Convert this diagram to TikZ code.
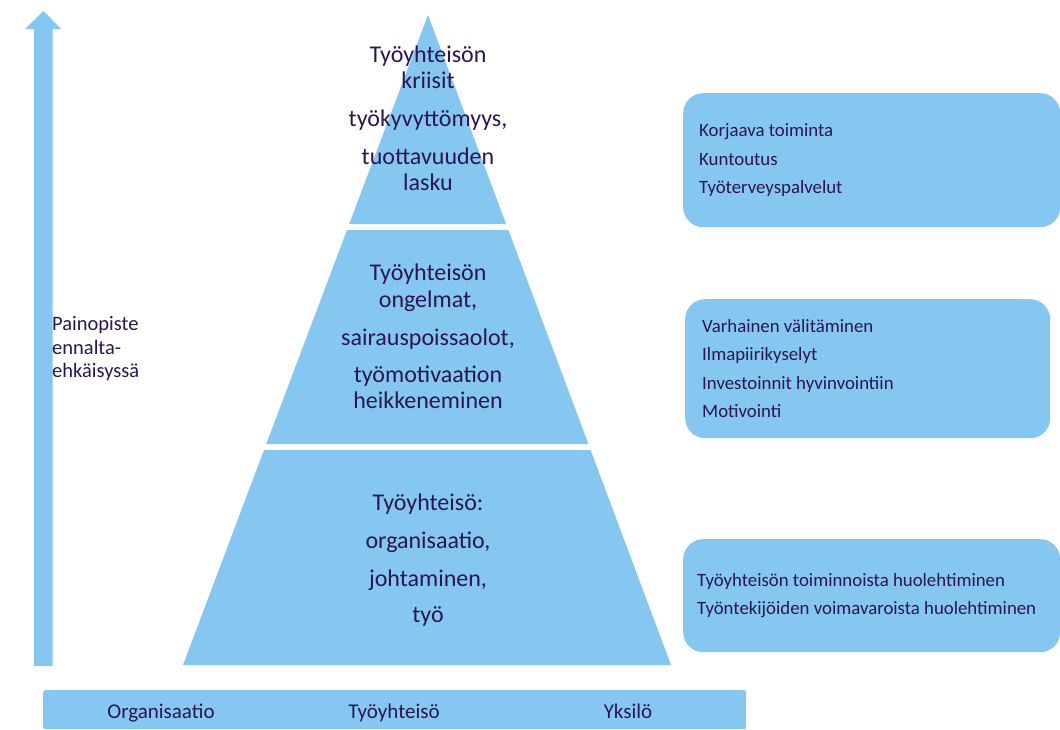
\documentclass[tikz,border=0pt]{standalone}
\usepackage{fontspec}
\setmainfont{Carlito}
\usetikzlibrary{positioning}
\definecolor{skyfill}{RGB}{133,199,240}
\definecolor{inkpurple}{RGB}{43,22,80}

\begin{document}
\begin{tikzpicture}[x=1pt, y=-1pt, every node/.style={text=inkpurple, inner sep=0pt},
  leveltext/.style={align=center, font=\fontsize{24}{26.5}\selectfont},
  infobox/.style={fill=skyfill, rounded corners=20pt, anchor=north west},
  infotext/.style={align=left, font=\fontsize{18.8}{28.5}\selectfont},
  scalelabel/.style={anchor=base, font=\fontsize{21}{24}\selectfont}]
\useasboundingbox (0,0) rectangle (1060,729);
% nuoli ja painopiste
\fill[skyfill] (34,666) -- (34,29) -- (25,29) -- (43.5,11) -- (61,29) -- (52.5,29) -- (52.5,666) -- cycle;
\node[anchor=west, align=left, font=\fontsize{20.5}{23.5}\selectfont] (painopiste) at (52,349) {Painopiste\\ennalta-\\ehkäisyssä};
% pyramidi
\coordinate (apex) at (428,15);
\fill[skyfill] (apex) -- (506.1,224) -- (349.2,224) -- cycle;
\fill[skyfill] (347,230) -- (508.4,230) -- (588.4,444) -- (266.3,444) -- cycle;
\fill[skyfill] (264,450) -- (590.6,450) -- (671,665) -- (183,665) -- cycle;
\node[leveltext] (kriisit) at (428,118) {Työyhteisön\\kriisit\\[11.5pt]työkyvyttömyys,\\[11pt]tuottavuuden\\lasku};
\node[leveltext] (ongelmat) at (428,336.5) {Työyhteisön\\ongelmat,\\[12pt]sairauspoissaolot,\\[10pt]työmotivaation\\heikkeneminen};
\node[leveltext] (perusta) at (428,560) {Työyhteisö:\\[11.5pt]organisaatio,\\[11.5pt]johtaminen,\\[10pt]työ};
% toimenpiteet
\node[infobox, minimum width=377, minimum height=134] (korjaava) at (683,93) {};
\node[infotext, right=16pt of korjaava.west] (korjaavat) {Korjaava toiminta\\Kuntoutus\\Työterveyspalvelut};
\node[infobox, minimum width=365, minimum height=139] (varhainen) at (685,299) {};
\node[infotext, right=17pt of varhainen.west] (varhaiset) {Varhainen välitäminen\\Ilmapiirikyselyt\\Investoinnit hyvinvointiin\\Motivointi};
\node[infobox, minimum width=377, minimum height=113] (huolehtiminen) at (683,539) {};
\node[infotext, right=14pt of huolehtiminen.west] (huolehtimiset) {Työyhteisön toiminnoista huolehtiminen\\Työntekijöiden voimavaroista huolehtiminen};
% tasot
\node[fill=skyfill, rounded corners=2pt, minimum width=703, minimum height=39, anchor=north west] (tasot) at (43,690) {};
\node[scalelabel] (organisaatio) at (161,718) {Organisaatio};
\node[scalelabel] (tyoyhteiso) at (394,718) {Työyhteisö};
\node[scalelabel] (yksilo) at (628,718) {Yksilö};
\end{tikzpicture}
\end{document}
